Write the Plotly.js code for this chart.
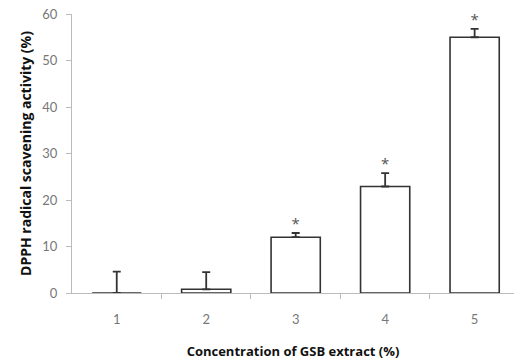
<!DOCTYPE html>
<html>
<head>
<meta charset="utf-8">
<script src="https://cdn.plot.ly/plotly-3.0.1.min.js"></script>
<style>html,body{margin:0;padding:0;background:#fff;}#chart{width:514px;height:363px;}</style>
</head>
<body>
<div id="chart"></div>
<script>
const categories = [1, 2, 3, 4, 5];
const activity = [0, 0.8, 12.0, 22.9, 55.0];
const errors = [4.6, 3.7, 0.9, 2.9, 1.8];
const marks = ["", "", "*", "*", "*"];
const yTicks = [0, 10, 20, 30, 40, 50, 60];

const starY = activity.map((v, i) => v + errors[i]);

const traces = [
  {
    type: "bar",
    x: categories,
    y: activity,
    width: 0.55,
    marker: {color: "#ffffff", line: {color: "#333333", width: 1.6}},
    error_y: {type: "data", array: errors, arrayminus: errors.map(() => 0), symmetric: false,
              color: "#333333", thickness: 1.8, width: 4},
    hoverinfo: "skip"
  },
  {
    type: "scatter",
    mode: "text",
    x: categories,
    y: starY,
    text: marks,
    textposition: "top center",
    textfont: {family: "'Open Sans', sans-serif", size: 15, color: "#555555"},
    hoverinfo: "skip"
  }
];

const xTitleFont = {size: 13, color: "#111111", family: "'Open Sans', sans-serif", weight: "bold"};
const yTitleFont = {size: 14, color: "#111111", family: "'Open Sans', sans-serif", weight: "bold"};

const layout = {
  width: 514,
  height: 363,
  margin: {l: 72, r: 0, t: 14, b: 70},
  paper_bgcolor: "#ffffff",
  plot_bgcolor: "#ffffff",
  showlegend: false,
  font: {family: "Lato, 'Open Sans', sans-serif", color: "#777777", size: 13},
  xaxis: {
    range: [0.5, 5.44],
    tickmode: "array",
    tickvals: categories,
    ticktext: categories.map(String),
    showgrid: false,
    zeroline: false,
    showline: true,
    linecolor: "#bbbbbb",
    linewidth: 1,
    ticks: "",
    tickfont: {size: 13, color: "#777777"},
    ticklabelstandoff: 14,
    minor: {tickvals: [1.5, 2.5, 3.5, 4.5], ticks: "outside", ticklen: 5, tickcolor: "#bbbbbb", showgrid: false},
    title: {text: "Concentration of GSB extract (%)", font: xTitleFont, standoff: 21}
  },
  yaxis: {
    range: [0, 60],
    tickmode: "array",
    tickvals: yTicks,
    ticktext: yTicks.map(String),
    showgrid: false,
    zeroline: false,
    showline: true,
    linecolor: "#bbbbbb",
    linewidth: 1,
    ticks: "outside",
    ticklen: 5,
    tickcolor: "#bbbbbb",
    tickfont: {size: 13, color: "#777777"},
    ticklabelstandoff: 6,
    title: {text: "DPPH radical scavening activity (%)", font: yTitleFont, standoff: 7}
  }
};

Plotly.newPlot("chart", traces, layout, {displayModeBar: false, staticPlot: true});
</script>
</body>
</html>
